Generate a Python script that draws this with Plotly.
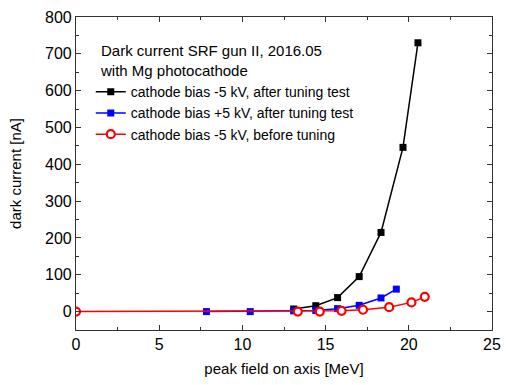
import plotly.graph_objects as go

# data
black_x = [13.08, 14.41, 15.72, 17.02, 18.33, 19.65, 20.55]
black_y = [7, 16, 38, 95, 215, 446, 730]

blue_x = [7.84, 10.47, 13.08, 14.41, 15.72, 17.02, 18.33, 19.25]
blue_y = [0, 0, 2, 3, 8, 17, 37, 61]

red_x = [0, 13.33, 14.65, 15.96, 17.25, 18.82, 20.16, 20.96]
red_y = [0, 0, 0, 2, 5, 12, 25, 40]

names = [
    "cathode bias -5 kV, after tuning test",
    "cathode bias +5 kV, after tuning test",
    "cathode bias -5 kV, before tuning",
]
title_text = "Dark current SRF gun II, 2016.05<br>with Mg photocathode"

font = "Liberation Sans, Arial, sans-serif"

fig = go.Figure()
fig.add_trace(go.Scatter(x=black_x, y=black_y, mode="lines+markers", name=names[0],
                         line=dict(color="black", width=1.5),
                         marker=dict(symbol="square", size=7, color="black")))
fig.add_trace(go.Scatter(x=blue_x, y=blue_y, mode="lines+markers", name=names[1],
                         line=dict(color="#0000ff", width=1.5),
                         marker=dict(symbol="square", size=7, color="#0000ff")))
fig.add_trace(go.Scatter(x=red_x, y=red_y, mode="lines+markers", name=names[2],
                         line=dict(color="#ff0000", width=1.5),
                         marker=dict(symbol="circle", size=8, color="white",
                                     line=dict(color="#ff0000", width=2.2))))

axis_common = dict(
    showline=True, linecolor="#333", linewidth=1.2, mirror="allticks",
    ticks="inside", ticklen=5, tickwidth=1.2, tickcolor="#333",
    showgrid=False, zeroline=False,
    tickfont=dict(size=16, color="black", family=font),
)

fig.update_xaxes(range=[0, 25], dtick=5,
                 minor=dict(ticks="inside", ticklen=3, dtick=2.5, tickcolor="#333", tickwidth=1.2),
                 title=dict(text="peak field on axis [MeV]", font=dict(size=15, family=font, color="black"),
                            standoff=11),
                 **axis_common)
fig.update_yaxes(range=[-50, 800], dtick=100,
                 minor=dict(ticks="inside", ticklen=3, dtick=50, tickcolor="#333", tickwidth=1.2),
                 title=dict(text="dark current [nA]", font=dict(size=15, family=font, color="black"),
                            standoff=19),
                 **axis_common)

fig.add_annotation(text=title_text, xref="paper", yref="paper", x=0.052, y=0.927,
                   xanchor="left", yanchor="top", align="left", showarrow=False,
                   font=dict(size=15, family=font, color="black"))

fig.update_layout(
    width=510, height=385,
    margin=dict(l=76, r=9, t=13, b=55),
    paper_bgcolor="white", plot_bgcolor="white",
    font=dict(family=font, size=14, color="black"),
    showlegend=True,
    legend=dict(
        x=0.0355, y=0.811, xanchor="left", yanchor="top",
        bgcolor="rgba(0,0,0,0)",
        font=dict(size=14, family=font),
        tracegroupgap=0, itemwidth=30,
    ),
)

fig.write_html("out.html")
